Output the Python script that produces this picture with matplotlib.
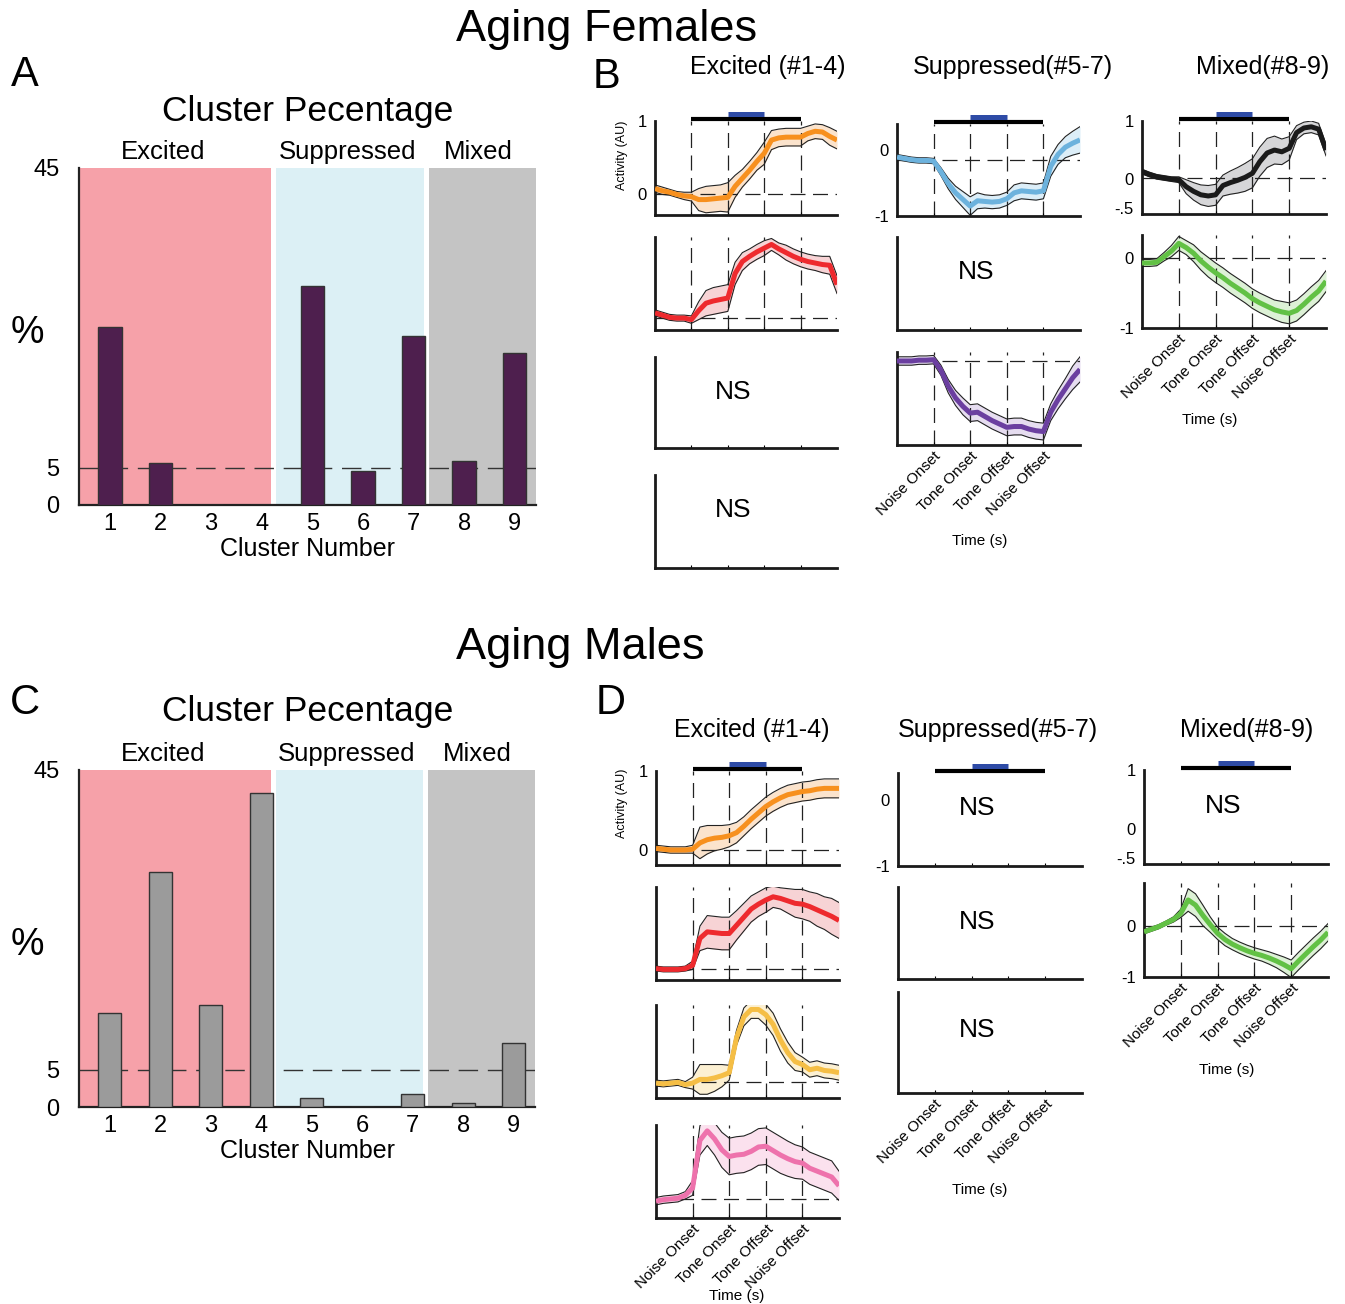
import matplotlib
matplotlib.use('Agg')
import matplotlib.pyplot as plt
import numpy as np

plt.rcParams['font.family'] = ['Liberation Sans', 'DejaVu Sans']

# ---------------- data ----------------
clusters = [1, 2, 3, 4, 5, 6, 7, 8, 9]
pct_females = [23.8, 5.6, 0.0, 0.0, 29.2, 4.6, 22.5, 5.9, 20.3]
pct_males = [12.6, 31.4, 13.6, 41.9, 1.2, 0.0, 1.8, 0.5, 8.5]

event_labels = ['Noise Onset', 'Tone Onset', 'Tone Offset', 'Noise Offset']
event_times = [0, 1, 2, 3]

time_s = [-1.0, -0.8, -0.6, -0.4, -0.2, 0.0, 0.2, 0.4, 0.6, 0.8, 1.0, 1.2, 1.4,
          1.6, 1.8, 2.0, 2.2, 2.4, 2.6, 2.8, 3.0, 3.2, 3.4, 3.6, 3.8, 4.0]

# Aging females
f_orange = [0.08, 0.05, 0.03, 0.0, -0.02, -0.03, -0.07, -0.07, -0.06, -0.05, -0.04, 0.11, 0.22,
            0.33, 0.45, 0.56, 0.74, 0.77, 0.78, 0.78, 0.78, 0.83, 0.86, 0.85, 0.79, 0.74]
f_orange_sem = [0.05, 0.05, 0.04, 0.04, 0.05, 0.06, 0.15, 0.18, 0.18, 0.18, 0.2, 0.15, 0.12,
                0.12, 0.12, 0.15, 0.13, 0.12, 0.12, 0.12, 0.12, 0.1, 0.1, 0.1, 0.12, 0.12]
f_red = [0.07, 0.04, 0.01, 0.0, 0.0, -0.02, 0.1, 0.2, 0.23, 0.25, 0.27, 0.6, 0.76,
         0.83, 0.89, 0.94, 0.99, 0.93, 0.88, 0.83, 0.79, 0.76, 0.74, 0.72, 0.71, 0.45]
f_red_sem = [0.04, 0.04, 0.04, 0.04, 0.04, 0.05, 0.12, 0.17, 0.18, 0.18, 0.18, 0.15, 0.12,
             0.1, 0.1, 0.1, 0.08, 0.08, 0.1, 0.1, 0.1, 0.1, 0.1, 0.11, 0.12, 0.12]
f_blue = [-0.11, -0.13, -0.15, -0.16, -0.16, -0.17, -0.33, -0.51, -0.65, -0.75, -0.85, -0.77, -0.78,
          -0.79, -0.78, -0.74, -0.65, -0.62, -0.63, -0.64, -0.62, -0.25, -0.07, 0.04, 0.1, 0.15]
f_blue_sem = [0.04, 0.04, 0.04, 0.04, 0.04, 0.04, 0.06, 0.08, 0.1, 0.12, 0.14, 0.12, 0.1,
              0.1, 0.1, 0.1, 0.12, 0.12, 0.12, 0.12, 0.12, 0.15, 0.15, 0.16, 0.18, 0.2]
f_purple = [0.0, 0.0, 0.0, 0.01, 0.01, 0.016, -0.11, -0.3, -0.44, -0.54, -0.62, -0.61, -0.66,
            -0.71, -0.75, -0.79, -0.78, -0.78, -0.81, -0.83, -0.84, -0.61, -0.46, -0.33, -0.2, -0.1]
f_purple_sem = [0.05, 0.05, 0.05, 0.05, 0.05, 0.05, 0.06, 0.08, 0.09, 0.1, 0.1, 0.1, 0.1,
                0.1, 0.1, 0.1, 0.1, 0.1, 0.1, 0.1, 0.1, 0.1, 0.11, 0.12, 0.14, 0.15]
f_black = [0.13, 0.08, 0.04, 0.02, 0.0, -0.01, -0.13, -0.21, -0.27, -0.29, -0.27, -0.11, -0.06,
           -0.02, 0.03, 0.1, 0.3, 0.45, 0.5, 0.47, 0.53, 0.8, 0.88, 0.9, 0.86, 0.5]
f_black_sem = [0.04, 0.04, 0.04, 0.04, 0.04, 0.05, 0.12, 0.15, 0.17, 0.18, 0.18, 0.18, 0.2,
               0.22, 0.24, 0.25, 0.25, 0.25, 0.24, 0.22, 0.2, 0.12, 0.1, 0.1, 0.1, 0.1]
f_green = [-0.07, -0.07, -0.06, 0.02, 0.1, 0.21, 0.15, 0.07, -0.04, -0.13, -0.21, -0.28, -0.36,
           -0.43, -0.5, -0.58, -0.64, -0.69, -0.74, -0.77, -0.79, -0.75, -0.66, -0.56, -0.47, -0.33]
f_green_sem = [0.05, 0.05, 0.05, 0.06, 0.08, 0.1, 0.1, 0.12, 0.13, 0.14, 0.14, 0.14, 0.14,
               0.14, 0.14, 0.14, 0.14, 0.14, 0.14, 0.15, 0.15, 0.15, 0.15, 0.15, 0.15, 0.15]

# Aging males
m_orange = [0.02, 0.01, 0.0, 0.0, 0.0, 0.01, 0.09, 0.13, 0.15, 0.16, 0.18, 0.22, 0.3,
            0.39, 0.47, 0.55, 0.61, 0.66, 0.7, 0.72, 0.74, 0.75, 0.77, 0.78, 0.78, 0.78]
m_orange_sem = [0.04, 0.04, 0.04, 0.04, 0.04, 0.05, 0.2, 0.18, 0.16, 0.15, 0.14, 0.13, 0.12,
                0.12, 0.12, 0.12, 0.12, 0.12, 0.12, 0.12, 0.12, 0.12, 0.12, 0.12, 0.12, 0.12]
m_red = [0.01, 0.0, 0.0, 0.0, 0.01, 0.05, 0.38, 0.46, 0.45, 0.44, 0.44, 0.54, 0.64,
         0.74, 0.8, 0.85, 0.89, 0.87, 0.84, 0.81, 0.8, 0.77, 0.73, 0.69, 0.65, 0.6]
m_red_sem = [0.03, 0.03, 0.03, 0.03, 0.03, 0.05, 0.15, 0.2, 0.2, 0.2, 0.2, 0.18, 0.17,
             0.16, 0.15, 0.15, 0.13, 0.13, 0.15, 0.17, 0.18, 0.18, 0.2, 0.2, 0.22, 0.22]
m_yellow = [-0.01, -0.02, -0.01, 0.0, -0.03, -0.01, 0.04, 0.04, 0.06, 0.09, 0.13, 0.6, 0.88,
            0.98, 0.98, 0.91, 0.78, 0.57, 0.4, 0.28, 0.24, 0.17, 0.19, 0.16, 0.15, 0.13]
m_yellow_sem = [0.04, 0.04, 0.04, 0.04, 0.04, 0.08, 0.2, 0.2, 0.18, 0.15, 0.1, 0.1, 0.12,
                0.12, 0.12, 0.14, 0.15, 0.15, 0.14, 0.12, 0.1, 0.1, 0.1, 0.1, 0.1, 0.1]
m_pink = [-0.03, -0.01, 0.0, 0.01, 0.05, 0.15, 0.8, 0.93, 0.82, 0.67, 0.58, 0.6, 0.61,
          0.65, 0.71, 0.72, 0.66, 0.6, 0.55, 0.51, 0.49, 0.42, 0.38, 0.34, 0.3, 0.18]
m_pink_sem = [0.05, 0.05, 0.05, 0.05, 0.05, 0.1, 0.2, 0.2, 0.22, 0.24, 0.25, 0.25, 0.25,
              0.25, 0.25, 0.25, 0.25, 0.25, 0.24, 0.23, 0.22, 0.22, 0.22, 0.22, 0.22, 0.2]
m_green = [-0.12, -0.07, -0.02, 0.05, 0.12, 0.24, 0.5, 0.4, 0.2, 0.02, -0.15, -0.27, -0.36,
           -0.43, -0.49, -0.54, -0.58, -0.63, -0.69, -0.76, -0.84, -0.69, -0.55, -0.41, -0.28, -0.13]
m_green_sem = [0.04, 0.04, 0.04, 0.04, 0.05, 0.08, 0.22, 0.22, 0.2, 0.15, 0.12, 0.12, 0.11,
               0.11, 0.11, 0.11, 0.11, 0.12, 0.13, 0.15, 0.17, 0.17, 0.17, 0.17, 0.17, 0.17]

# ---------------- styles ----------------
W, H = 1345, 1304
fig = plt.figure(figsize=(W / 100, H / 100), dpi=100)

c_exc_bg = '#F6A1A9'
c_sup_bg = '#DCF0F5'
c_mix_bg = '#C4C4C4'
c_tone = '#2E4BA6'


def px_axes(l, t, r, b):
    return fig.add_axes([l / W, 1 - b / H, (r - l) / W, (b - t) / H])


def ftext(x, y, s, **kw):
    fig.text(x / W, 1 - y / H, s, **kw)


def bar_panel(ax, values, color):
    ax.axvspan(0.39, 4.19, color=c_exc_bg, lw=0, zorder=0)
    ax.axvspan(4.29, 7.2, color=c_sup_bg, lw=0, zorder=0)
    ax.axvspan(7.31, 9.42, color=c_mix_bg, lw=0, zorder=0)
    ax.bar(clusters, values, width=0.46, color=color, edgecolor='#333333', lw=1, zorder=3)
    ax.axhline(5, color='#333333', lw=1, dashes=(14, 7), zorder=2)
    ax.set_xlim(0.39, 9.42)
    ax.set_ylim(0, 45)
    ax.set_xticks(clusters)
    ax.set_yticks([0, 5, 45])
    ax.tick_params(axis='x', length=0, labelsize=17, pad=6)
    ax.tick_params(axis='y', length=0, labelsize=17, pad=14)
    for s in ['top', 'right']:
        ax.spines[s].set_visible(False)
    for s in ['left', 'bottom']:
        ax.spines[s].set_linewidth(1.6)
        ax.spines[s].set_color('#222222')
    ax.text(2.05, 45.6, 'Excited', ha='center', va='bottom', fontsize=18.5)
    ax.text(5.69, 45.6, 'Suppressed', ha='center', va='bottom', fontsize=18.5)
    ax.text(8.28, 45.6, 'Mixed', ha='center', va='bottom', fontsize=18.5)
    ax.set_xlabel('Cluster Number', fontsize=18, labelpad=1)


def base_axes(ax, ylim, yticks=(), ylabels=(), xlabels=False):
    ax.set_xlim(-1, 4)
    ax.set_ylim(ylim)
    for s in ['top', 'right']:
        ax.spines[s].set_visible(False)
    for s in ['left', 'bottom']:
        ax.spines[s].set_linewidth(2)
        ax.spines[s].set_color('#1a1a1a')
    ax.set_yticks(list(yticks))
    ax.set_yticklabels(list(ylabels))
    ax.set_xticks(event_times)
    if xlabels:
        ax.set_xticklabels(event_labels, rotation=45, ha='right',
                           rotation_mode='anchor', fontsize=11)
    else:
        ax.set_xticklabels([])
    ax.tick_params(axis='x', length=2, direction='in', pad=3)
    ax.tick_params(axis='y', length=0, labelsize=12, pad=6)


def stim_bar(ax):
    tr = ax.get_xaxis_transform()
    ax.plot([0, 3], [1.022, 1.022], transform=tr, clip_on=False, color='k',
            lw=3, solid_capstyle='butt')
    ax.plot([1, 2], [1.072, 1.072], transform=tr, clip_on=False, color=c_tone,
            lw=3.6, solid_capstyle='butt')


def trace_panel(ax, mean, sem, color, fill, ylim, base=0.0, yticks=(), ylabels=(),
                xlabels=False, stim=False):
    m = np.array(mean)
    e = np.array(sem)
    ax.fill_between(time_s, m - e, m + e, color=fill, lw=0, zorder=1)
    for x in event_times:
        ax.axvline(x, color='#222222', lw=0.9, dashes=(12, 6), zorder=1.5)
    ax.axhline(base, color='#222222', lw=0.9, dashes=(12, 6), zorder=1.5)
    ax.plot(time_s, m + e, color='#222222', lw=0.8, zorder=2)
    ax.plot(time_s, m - e, color='#222222', lw=0.8, zorder=2)
    ax.plot(time_s, m, color=color, lw=3.6, zorder=3, solid_capstyle='butt')
    base_axes(ax, ylim, yticks, ylabels, xlabels)
    if stim:
        stim_bar(ax)


def ns_panel(ax, ylim=(0, 1), yticks=(), ylabels=(), xlabels=False, stim=False):
    base_axes(ax, ylim, yticks, ylabels, xlabels)
    ax.text(0.43, 0.62, 'NS', transform=ax.transAxes, ha='center', va='center', fontsize=19)
    if stim:
        stim_bar(ax)


# ---------------- headings ----------------
ftext(607, 30, 'Aging Females', ha='center', va='center', fontsize=32.5)
ftext(580, 647, 'Aging Males', ha='center', va='center', fontsize=32.5)
ftext(25, 75, 'A', ha='center', va='center', fontsize=30)
ftext(606, 77, 'B', ha='center', va='center', fontsize=30)
ftext(25, 703, 'C', ha='center', va='center', fontsize=30)
ftext(611, 703, 'D', ha='center', va='center', fontsize=30)
ftext(308, 112, 'Cluster Pecentage', ha='center', va='center', fontsize=25.5)
ftext(308, 711, 'Cluster Pecentage', ha='center', va='center', fontsize=25.5)
ftext(27, 333, '%', ha='center', va='center', fontsize=27)
ftext(27, 945, '%', ha='center', va='center', fontsize=27)

ftext(768, 67, 'Excited (#1-4)', ha='center', va='center', fontsize=18)
ftext(1013, 67, 'Suppressed(#5-7)', ha='center', va='center', fontsize=18)
ftext(1263, 67, 'Mixed(#8-9)', ha='center', va='center', fontsize=18)
ftext(752, 730, 'Excited (#1-4)', ha='center', va='center', fontsize=18)
ftext(998, 730, 'Suppressed(#5-7)', ha='center', va='center', fontsize=18)
ftext(1247, 730, 'Mixed(#8-9)', ha='center', va='center', fontsize=18)

ftext(622, 155, 'Activity (AU)', ha='center', va='center', rotation=90, fontsize=9)
ftext(622, 803, 'Activity (AU)', ha='center', va='center', rotation=90, fontsize=9)

ftext(980, 541, 'Time (s)', ha='center', va='center', fontsize=11)
ftext(1210, 420, 'Time (s)', ha='center', va='center', fontsize=11)
ftext(737, 1296, 'Time (s)', ha='center', va='center', fontsize=11)
ftext(980, 1190, 'Time (s)', ha='center', va='center', fontsize=11)
ftext(1227, 1070, 'Time (s)', ha='center', va='center', fontsize=11)

# ---------------- bar charts ----------------
axA = px_axes(79, 168, 536, 505)
bar_panel(axA, pct_females, '#4E1F4E')
axC = px_axes(79, 770, 535, 1107)
bar_panel(axC, pct_males, '#9B9B9B')

# ---------------- B: aging females ----------------
ax = px_axes(655, 121, 837, 215)
trace_panel(ax, f_orange, f_orange_sem, '#F7901E', '#FBE3CC', (-0.28, 1),
            yticks=(0, 1), ylabels=('0', '1'), stim=True)
ax = px_axes(655, 237, 837, 330)
trace_panel(ax, f_red, f_red_sem, '#EE2A2E', '#F7D3D5', (-0.16, 1.09))
ax = px_axes(655, 357, 837, 448)
ns_panel(ax)
ax = px_axes(655, 475, 837, 568)
ns_panel(ax)

ax = px_axes(897, 124, 1080, 216)
trace_panel(ax, f_blue, f_blue_sem, '#6CB2DD', '#DCEEF8', (-1, 0.39), base=-0.16,
            yticks=(-1, 0), ylabels=('-1', '0'), stim=True)
ax = px_axes(897, 237, 1080, 330)
ns_panel(ax)
ax = px_axes(897, 352, 1080, 445)
trace_panel(ax, f_purple, f_purple_sem, '#6B3FA0', '#E6DDF0', (-1, 0.107), xlabels=True)

ax = px_axes(1142, 121, 1326, 214)
trace_panel(ax, f_black, f_black_sem, '#1A1A1A', '#D6D6D8', (-0.6, 1.0), base=0.02,
            yticks=(-0.5, 0, 1), ylabels=('-.5', '0', '1'), stim=True)
ax = px_axes(1142, 235, 1326, 328)
trace_panel(ax, f_green, f_green_sem, '#62C145', '#DDF1D6', (-1, 0.33),
            yticks=(-1, 0), ylabels=('-1', '0'), xlabels=True)

# ---------------- D: aging males ----------------
ax = px_axes(656, 771, 839, 865)
trace_panel(ax, m_orange, m_orange_sem, '#F7901E', '#FBE3CC', (-0.19, 1),
            yticks=(0, 1), ylabels=('0', '1'), stim=True)
ax = px_axes(656, 887, 839, 980)
trace_panel(ax, m_red, m_red_sem, '#EE2A2E', '#F7D3D5', (-0.13, 1.01))
ax = px_axes(656, 1005, 839, 1098)
trace_panel(ax, m_yellow, m_yellow_sem, '#F5BE45', '#FCF0D2', (-0.21, 1.04))
ax = px_axes(656, 1125, 839, 1218)
trace_panel(ax, m_pink, m_pink_sem, '#EE72AC', '#FBE1EE', (-0.26, 1.01), xlabels=True)

ax = px_axes(898, 773, 1082, 866)
ns_panel(ax, ylim=(-1, 0.4), yticks=(-1, 0), ylabels=('-1', '0'), stim=True)
ax = px_axes(898, 887, 1082, 979)
ns_panel(ax)
ax = px_axes(898, 992, 1082, 1093)
ns_panel(ax, xlabels=True)

ax = px_axes(1144, 770, 1328, 864)
ns_panel(ax, ylim=(-0.6, 1.0), yticks=(-0.5, 0, 1), ylabels=('-.5', '0', '1'), stim=True)
ax = px_axes(1144, 883, 1328, 977)
trace_panel(ax, m_green, m_green_sem, '#62C145', '#DDF1D6', (-1, 0.83),
            yticks=(-1, 0), ylabels=('-1', '0'), xlabels=True)

fig.savefig('out.png', dpi=100)
